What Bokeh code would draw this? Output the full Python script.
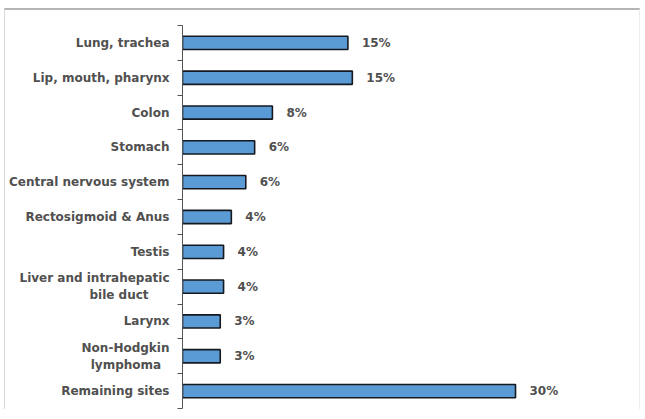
from bokeh.plotting import figure
from bokeh.models import ColumnDataSource, Range1d, FixedTicker
from bokeh.core.properties import value
from bokeh.embed import file_html
from bokeh.resources import INLINE

NB = "\u00a0"

# ---- data (top to bottom) ----
categories = [
    "Lung, trachea",
    "Lip, mouth, pharynx",
    "Colon",
    "Stomach",
    "Central nervous system",
    "Rectosigmoid & Anus",
    "Testis",
    "Liver and intrahepatic\nbile duct",
    "Larynx",
    "Non-Hodgkin\nlymphoma",
    "Remaining sites",
]
values = [14.9, 15.3, 8.1, 6.5, 5.7, 4.4, 3.7, 3.7, 3.4, 3.4, 30.0]
value_labels = ["15%", "15%", "8%", "6%", "6%", "4%", "4%", "4%", "3%", "3%", "30%"]

# second lines of two-line labels are padded so they sit centred under the first
pad = {"bile duct": 5, "lymphoma": 2}


def centred(label):
    lines = label.split("\n")
    return "\n".join([lines[0]] + [ln + NB * pad.get(ln, 0) for ln in lines[1:]])


n = len(categories)
ypos = [n - i - 0.5 for i in range(n)]

src = ColumnDataSource(dict(y=ypos, v=values, lab=value_labels))

p = figure(
    width=636, height=401,
    x_range=Range1d(0, 41.35), y_range=Range1d(0, n),
    output_backend="svg", toolbar_location=None,
    min_border_left=177, min_border_right=0,
    min_border_top=15, min_border_bottom=3,
)
p.styles = {"margin-top": "8px", "margin-left": "4px",
            "border-top": "2px solid #b4b4b4", "border-left": "1px solid #d8d8d8",
            "border-right": "1px solid #ececec"}
p.outline_line_color = None
p.xgrid.visible = False
p.ygrid.visible = False
p.xaxis.visible = False
p.background_fill_color = "white"
p.border_fill_color = "white"

p.hbar(y="y", left=0, right="v", height=0.38, source=src,
       fill_color="#5b9bd5", line_color="#15191f", line_width=1.6)

p.text(x="v", y="y", text="lab", source=src, x_offset=14,
       text_font=value("DejaVu Sans"), text_font_style="bold",
       text_font_size="12px", text_color="#505050",
       text_baseline="middle", text_align="left")

yax = p.yaxis[0]
yax.ticker = FixedTicker(ticks=ypos, minor_ticks=list(range(n + 1)))
yax.major_label_overrides = {y: centred(c) for y, c in zip(ypos, categories)}
yax.major_tick_out = 0
yax.major_tick_in = 0
yax.minor_tick_out = 5
yax.minor_tick_in = 0
yax.minor_tick_line_color = "#555555"
yax.axis_line_color = "#555555"
yax.major_label_standoff = 8
yax.major_label_text_font = "DejaVu Sans"
yax.major_label_text_font_style = "bold"
yax.major_label_text_font_size = "12px"
yax.major_label_text_color = "#505050"

open("out.html", "w").write(file_html(p, INLINE))
